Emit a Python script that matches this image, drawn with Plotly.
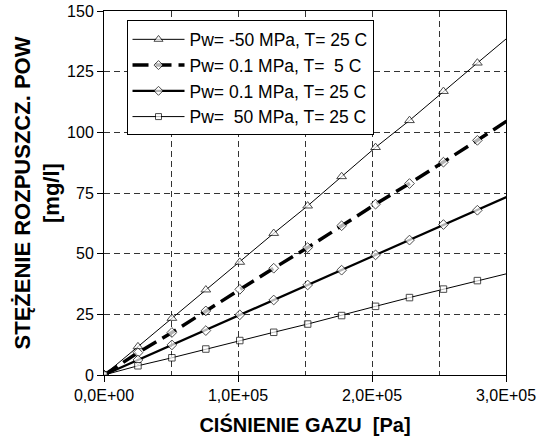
import plotly.graph_objects as go

# Gas pressure [Pa], 0.25 atm steps
pressure_pa = [0, 25331, 50663, 75994, 101325, 126656, 151988, 177319,
               202650, 227981, 253313, 278644, 303975]

# Dissolved concentration [mg/l] for each case
conc_m50_25 = [0, 11.7, 23.4, 35.1, 46.5, 58.4, 69.7, 81.8, 93.8, 104.9, 116.9, 128.6, 140.3]
conc_01_5 = [0, 9.2, 17.5, 26.4, 35.3, 44.0, 52.5, 61.5, 70.4, 78.9, 87.7, 96.7, 105.9]
conc_01_25 = [0, 6.2, 12.4, 18.3, 24.8, 30.9, 37.1, 43.2, 49.5, 55.6, 62.0, 67.9, 74.2]
conc_50_25 = [0, 3.8, 7.1, 10.7, 14.2, 17.6, 21.0, 24.5, 28.3, 31.9, 35.4, 38.9, 42.2]

series_names = [
    "Pw= -50 MPa, T= 25 C",
    "Pw= 0.1 MPa, T=\u00a0 5 C",
    "Pw= 0.1 MPa, T= 25 C",
    "Pw=\u00a0 50 MPa, T= 25 C",
]

x_tick_vals = [0, 100000, 200000, 300000]
x_tick_text = ["0,0E+00", "1,0E+05", "2,0E+05", "3,0E+05"]
y_tick_vals = [0, 25, 50, 75, 100, 125, 150]

FONT = "Arial, Liberation Sans, sans-serif"


def sizes(s):
    # no marker on the final line point
    return [s] * (len(pressure_pa) - 1) + [0]


fig = go.Figure()

fig.add_trace(go.Scatter(
    x=pressure_pa, y=conc_m50_25, name=series_names[0], mode="lines+markers",
    line=dict(color="black", width=1),
    marker=dict(symbol="triangle-up", size=sizes(8.5), color="white",
                line=dict(color="black", width=1)),
))
fig.add_trace(go.Scatter(
    x=pressure_pa, y=conc_01_5, name=series_names[1], mode="lines+markers",
    line=dict(color="black", width=3.5, dash="16px,7px"),
    marker=dict(symbol="diamond", size=sizes(7.5), color="white",
                line=dict(color="black", width=1)),
))
fig.add_trace(go.Scatter(
    x=pressure_pa, y=conc_01_25, name=series_names[2], mode="lines+markers",
    line=dict(color="black", width=2.2),
    marker=dict(symbol="diamond", size=sizes(7.5), color="white",
                line=dict(color="black", width=1)),
))
fig.add_trace(go.Scatter(
    x=pressure_pa, y=conc_50_25, name=series_names[3], mode="lines+markers",
    line=dict(color="black", width=1),
    marker=dict(symbol="square", size=sizes(6.5), color="white",
                line=dict(color="black", width=1)),
))

fig.update_layout(
    width=542, height=443,
    margin=dict(l=104, r=36, t=11, b=68),
    paper_bgcolor="white", plot_bgcolor="white",
    font=dict(family=FONT, size=16, color="black"),
    showlegend=True,
    legend=dict(
        x=0.056, y=0.974, xanchor="left", yanchor="top",
        bgcolor="white", bordercolor="black", borderwidth=1,
        font=dict(family=FONT, size=17.5, color="black"),
        itemwidth=52, tracegroupgap=0,
    ),
    xaxis=dict(
        range=[0, 300000], automargin=False,
        tickmode="array", tickvals=x_tick_vals, ticktext=x_tick_text,
        ticks="outside", ticklen=6, tickcolor="black",
        showline=True, linecolor="black", linewidth=1, mirror=True,
        showgrid=True, gridcolor="#333333", gridwidth=1, griddash="6px,4px",
        minor=dict(dtick=50000, tick0=0, showgrid=True, gridcolor="#333333",
                   gridwidth=1, griddash="6px,4px", ticks=""),
        zeroline=False,
        tickfont=dict(family=FONT, size=16),
        title=dict(text="<b>CIŚNIENIE GAZU\u00a0 [Pa]</b>",
                   font=dict(family=FONT, size=20), standoff=14),
    ),
    yaxis=dict(
        range=[0, 150], automargin=False,
        tickmode="array", tickvals=y_tick_vals,
        ticks="outside", ticklen=6, tickcolor="black",
        showline=True, linecolor="black", linewidth=1, mirror=True,
        showgrid=True, gridcolor="#333333", gridwidth=1, griddash="6px,4px",
        zeroline=False,
        tickfont=dict(family=FONT, size=16),
        title=dict(text="<b>STĘŻENIE ROZPUSZCZ. POW<br>[mg/l]</b>",
                   font=dict(family=FONT, size=22), standoff=1),
    ),
)

fig.write_html("out.html")
